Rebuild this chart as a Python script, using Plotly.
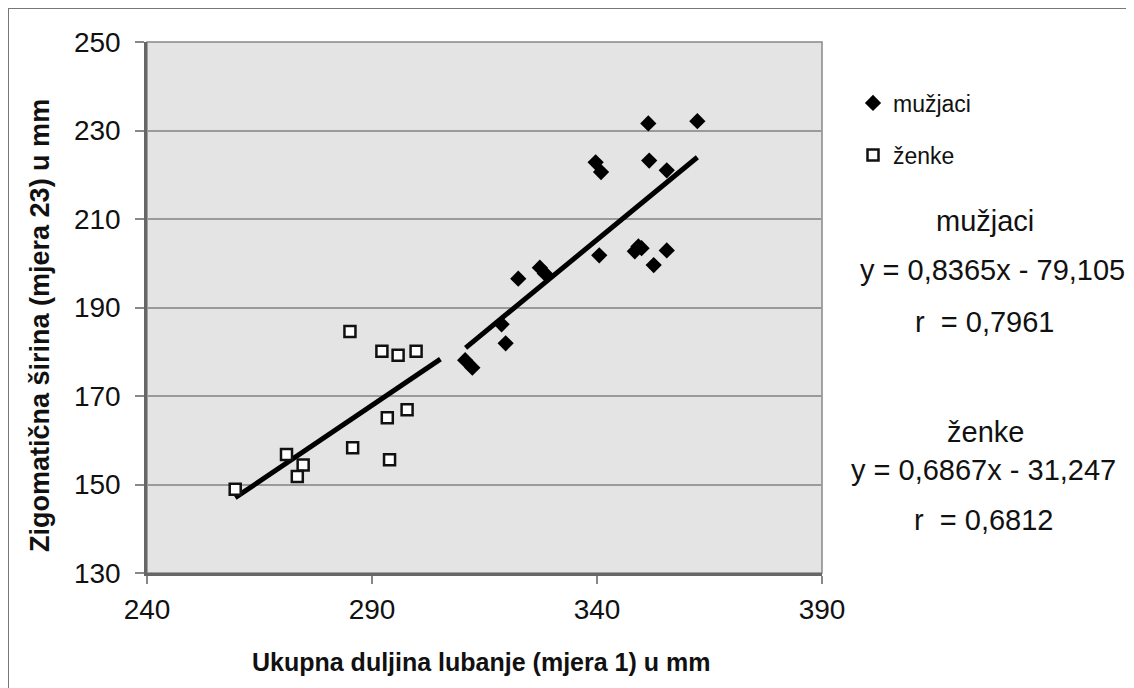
import plotly.graph_objects as go

# ---- data ----
male_x = [351.4, 362.3, 351.6, 339.7, 340.9, 355.5, 340.5, 349.2, 348.4, 349.9,
          355.5, 352.6, 322.5, 327.3, 328.4, 318.8, 319.7, 310.7, 312.3]
male_y = [231.6, 232.1, 223.2, 222.8, 220.6, 221.0, 201.8, 203.8, 202.7, 203.4,
          202.9, 199.6, 196.5, 199.0, 197.7, 186.2, 181.9, 178.1, 176.4]

female_x = [259.6, 285.1, 292.2, 295.8, 299.8, 297.8, 293.4, 285.7, 293.9, 271.0, 274.7, 273.4]
female_y = [148.9, 184.6, 180.1, 179.2, 180.1, 166.9, 165.1, 158.3, 155.6, 156.8, 154.4, 151.8]

male_fit = (0.8365, -79.105)
female_fit = (0.6867, -31.247)
male_fit_range = [310.8, 362.3]
female_fit_range = [259.6, 305.2]

x_ticks = [240, 290, 340, 390]
y_ticks = [130, 150, 170, 190, 210, 230, 250]

FONT = "Arial, Liberation Sans, sans-serif"

def fit_line(coef, xr):
    a, b = coef
    return xr, [a * v + b for v in xr]

fig = go.Figure()

mx, my = fit_line(male_fit, male_fit_range)
fx, fy = fit_line(female_fit, female_fit_range)
fig.add_trace(go.Scatter(x=fx, y=fy, mode="lines", line=dict(color="black", width=5),
                         showlegend=False, hoverinfo="skip"))
fig.add_trace(go.Scatter(x=mx, y=my, mode="lines", line=dict(color="black", width=5),
                         showlegend=False, hoverinfo="skip"))

fig.add_trace(go.Scatter(x=male_x, y=male_y, mode="markers", name="mužjaci",
                         marker=dict(symbol="diamond", size=12.5, color="black",
                                     line=dict(width=0)),
                         legend="legend"))
fig.add_trace(go.Scatter(x=female_x, y=female_y, mode="markers", name="ženke",
                         marker=dict(symbol="square", size=11, color="white",
                                     line=dict(color="#111111", width=2.5)),
                         legend="legend2"))

# plot area in reference pixels: x 147..822, y 42..573
def px_x(p):
    return (p - 147) / 675.0

def px_y(p):
    return (573 - p) / 531.0

annots = [
    ("mužjaci", 985, 221),
    ("y = 0,8365x - 79,105", 992, 270),
    ("r\u00a0 = 0,7961", 984, 322),
    ("ženke", 985, 432),
    ("y = 0,6867x - 31,247", 983, 470),
    ("r\u00a0 = 0,6812", 983, 520),
]
for txt, cx, cy in annots:
    fig.add_annotation(text=txt, x=px_x(cx), y=px_y(cy), xref="paper", yref="paper",
                       showarrow=False, xanchor="center", yanchor="middle",
                       font=dict(family=FONT, size=29, color="#111111"))

# axis titles
fig.add_annotation(text="<b>Ukupna duljina lubanje (mjera 1) u mm</b>",
                   x=px_x(481), y=px_y(662), xref="paper", yref="paper",
                   showarrow=False, xanchor="center", yanchor="middle",
                   font=dict(family=FONT, size=25, color="#111111"))
fig.add_annotation(text="<b>Zigomatična širina (mjera 23) u mm</b>",
                   x=px_x(40), y=px_y(326), xref="paper", yref="paper",
                   showarrow=False, xanchor="center", yanchor="middle", textangle=-90,
                   font=dict(family=FONT, size=27, color="#111111"))

# outer picture border (top and left only visible)
fig.add_shape(type="line", xref="paper", yref="paper",
              x0=px_x(8), x1=px_x(1140), y0=px_y(8), y1=px_y(8),
              line=dict(color="#777777", width=2))
fig.add_shape(type="line", xref="paper", yref="paper",
              x0=px_x(8), x1=px_x(8), y0=px_y(8), y1=px_y(700),
              line=dict(color="#777777", width=2))
# plot frame top/right
fig.add_shape(type="rect", xref="paper", yref="paper", x0=0, x1=1, y0=0, y1=1,
              line=dict(color="#888888", width=1.5), layer="below")

# page body has an 8px margin, so offset figure margins by 8px
fig.update_layout(
    width=1134, height=688,
    margin=dict(l=139, r=320, t=34, b=123),
    paper_bgcolor="white",
    plot_bgcolor="#e4e4e4",
    font=dict(family=FONT, color="#111111"),
    showlegend=True,
    legend=dict(x=px_x(853), y=px_y(103), xanchor="left", yanchor="middle",
                font=dict(family=FONT, size=23, color="#111111"),
                bgcolor="rgba(0,0,0,0)", itemwidth=30),
    legend2=dict(x=px_x(853), y=px_y(155), xanchor="left", yanchor="middle",
                 font=dict(family=FONT, size=23, color="#111111"),
                 bgcolor="rgba(0,0,0,0)", itemwidth=30),
    xaxis=dict(range=[240, 390], tickvals=x_ticks, showgrid=False, zeroline=False,
               showline=True, linecolor="#666666", linewidth=2.5,
               ticks="outside", ticklen=8, tickcolor="#888888", tickwidth=1.5,
               tickfont=dict(family=FONT, size=28, color="#111111"),
               ticklabelstandoff=2),
    yaxis=dict(range=[130, 250], tickvals=y_ticks, showgrid=True, gridcolor="#9a9a9a",
               gridwidth=1.5, zeroline=False,
               showline=True, linecolor="#666666", linewidth=2.5,
               ticks="outside", ticklen=9, tickcolor="#888888", tickwidth=1.5,
               tickfont=dict(family=FONT, size=28, color="#111111"),
               ticklabelstandoff=9),
)

fig.write_html("out.html")
